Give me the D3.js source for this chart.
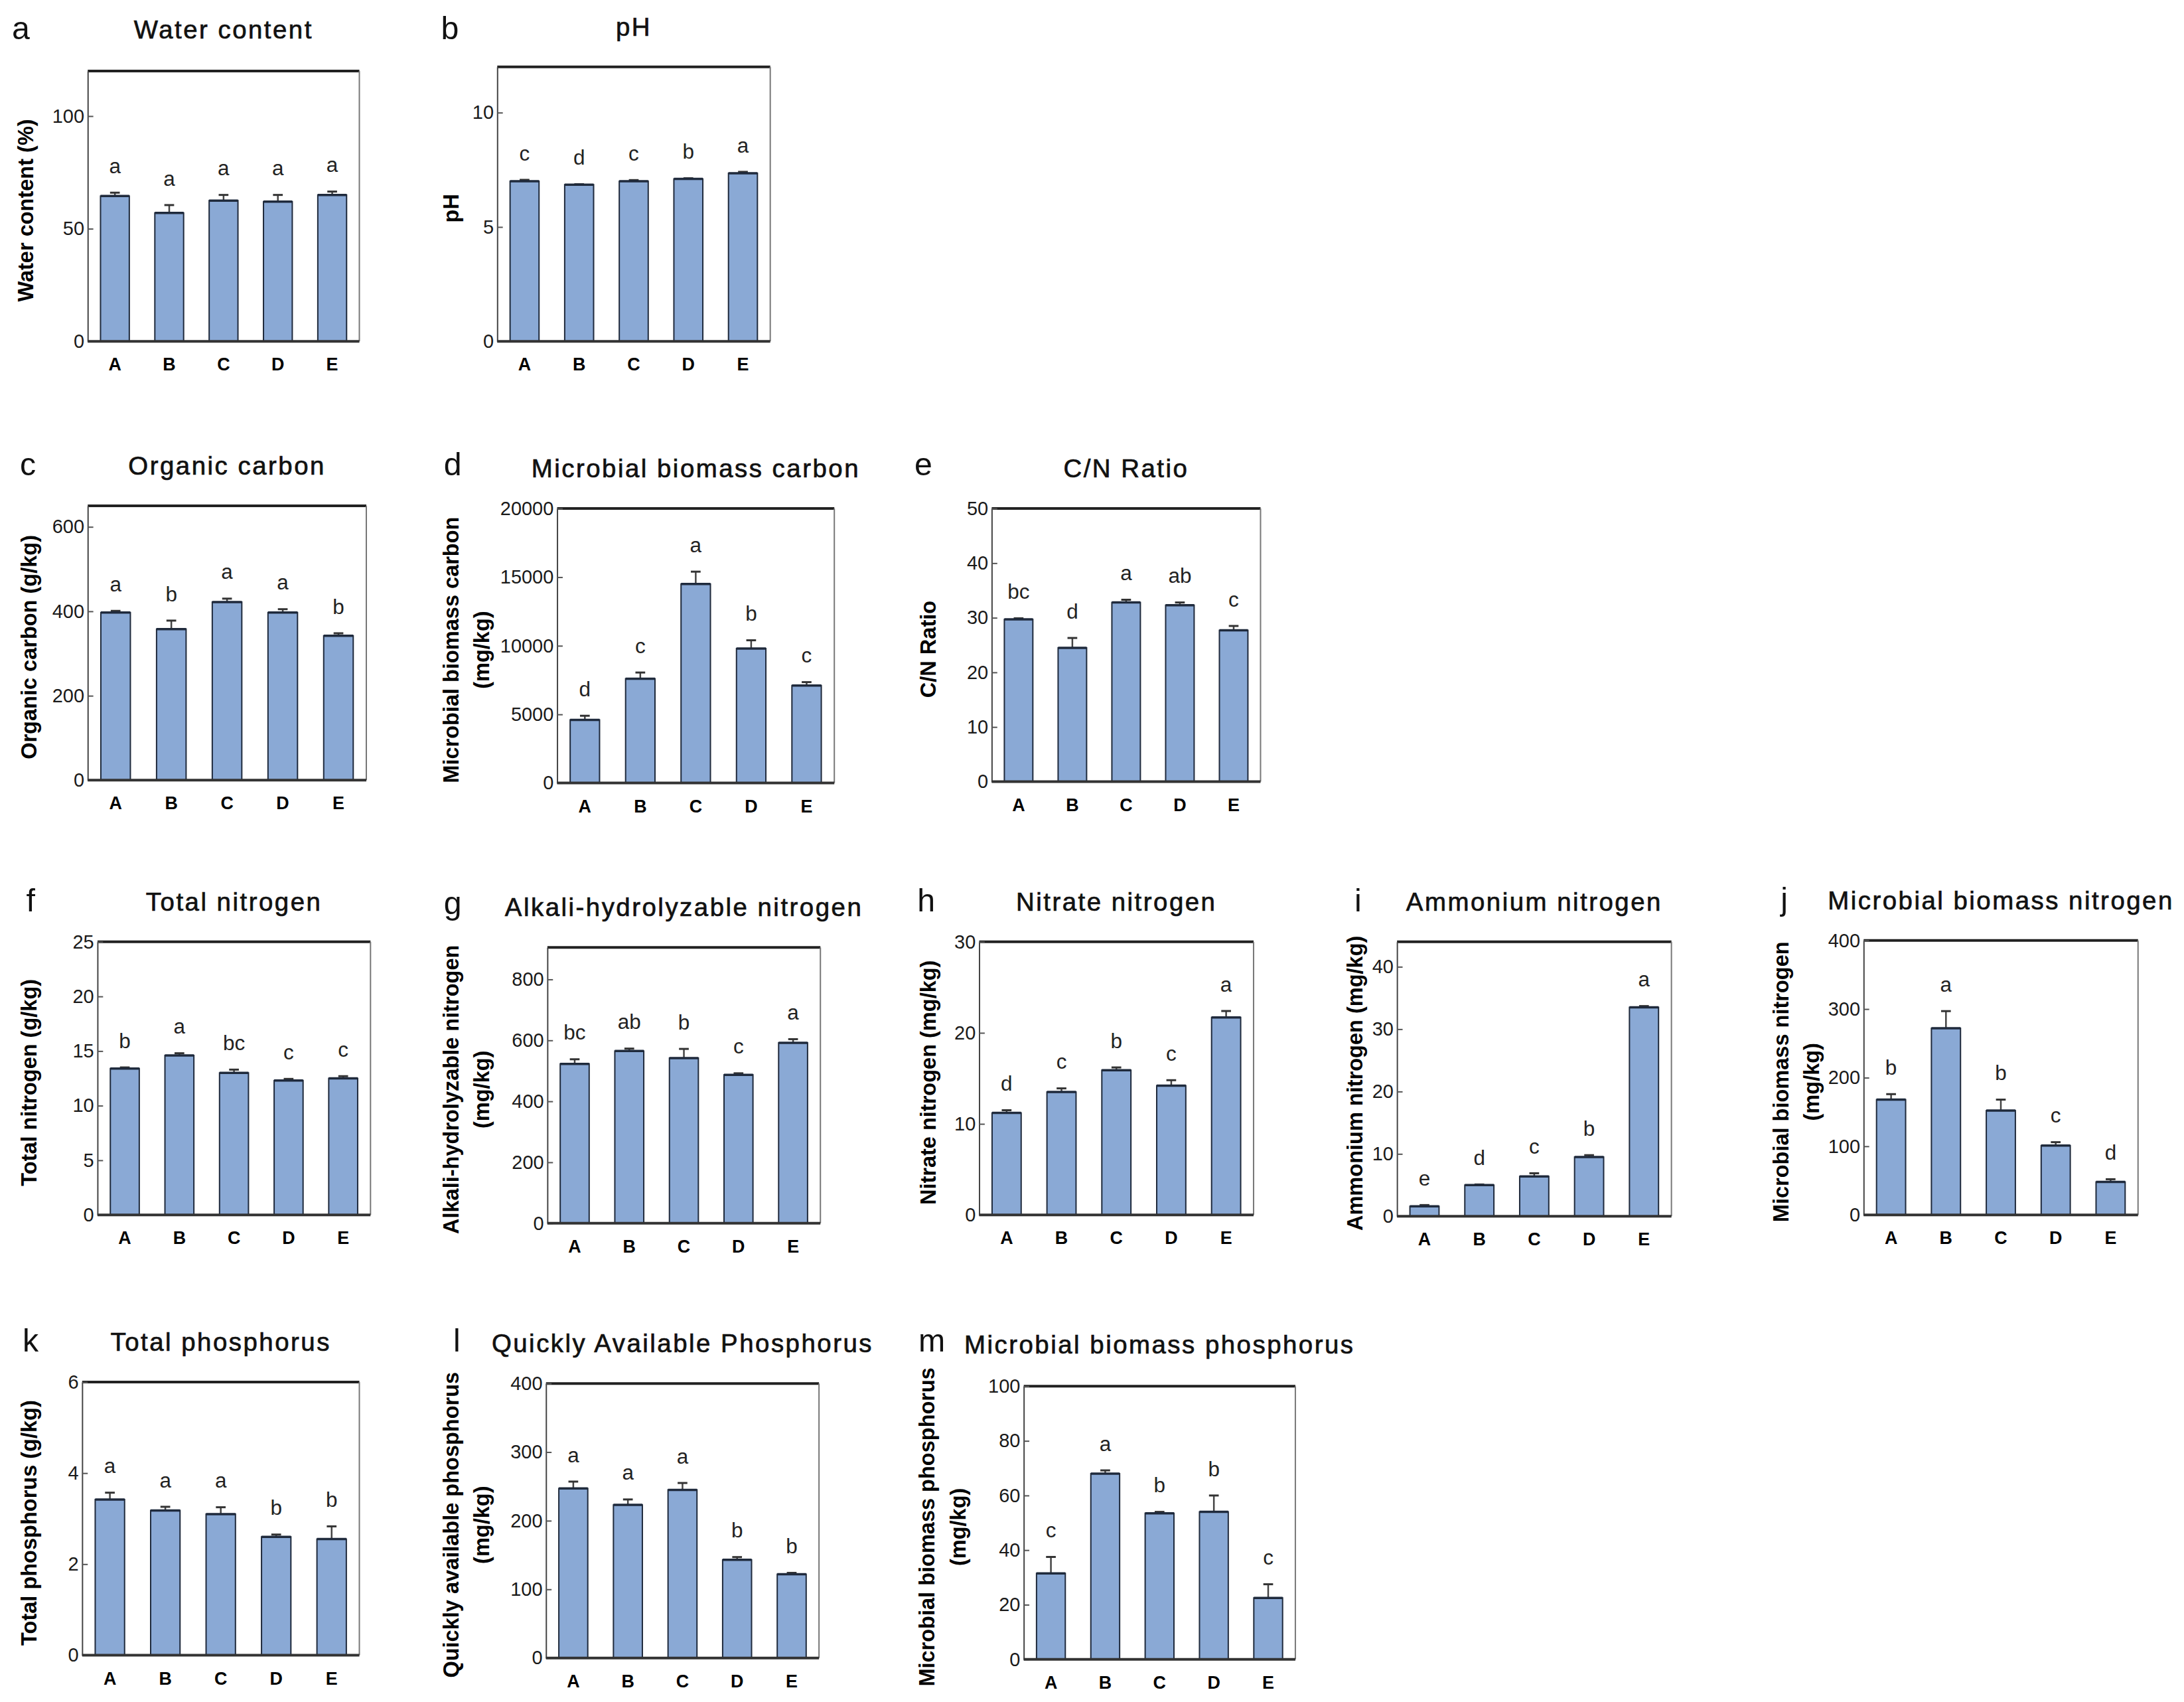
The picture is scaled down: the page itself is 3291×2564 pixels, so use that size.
<!DOCTYPE html>
<html>
<head>
<meta charset="utf-8">
<script src="https://cdn.jsdelivr.net/npm/d3@7"></script>
<style>
body {margin:0; background:#fff;}
svg {display:block;}
text {font-family:"Liberation Sans", Arial, sans-serif;}
</style>
</head>
<body>
<svg id="fig" width="3291" height="2564"></svg>
<script>
// soil property bar panels

var categories = ["A", "B", "C", "D", "E"];

var waterContent = [64.5, 57, 62.5, 62, 65];
var waterContentErr = [1.5, 3.5, 2.5, 3, 1.5];
var waterContentLetters = ["a", "a", "a", "a", "a"];

var ph = [7.0, 6.85, 7.0, 7.1, 7.35];
var phErr = [0.06, 0.02, 0.05, 0.03, 0.06];
var phLetters = ["c", "d", "c", "b", "a"];

var organicCarbon = [397, 358, 422, 397, 342];
var organicCarbonErr = [4, 20, 8, 8, 6];
var organicCarbonLetters = ["a", "b", "a", "a", "b"];

var mbCarbon = [4600, 7600, 14500, 9800, 7100];
var mbCarbonErr = [300, 450, 900, 600, 250];
var mbCarbonLetters = ["d", "c", "a", "b", "c"];

var cnRatio = [29.7, 24.5, 32.8, 32.3, 27.7];
var cnRatioErr = [0.2, 1.8, 0.5, 0.5, 0.8];
var cnRatioLetters = ["bc", "d", "a", "ab", "c"];

var totalN = [13.4, 14.6, 13.0, 12.3, 12.5];
var totalNErr = [0.1, 0.2, 0.3, 0.15, 0.2];
var totalNLetters = ["b", "a", "bc", "c", "c"];

var alkaliN = [523, 565, 542, 487, 592];
var alkaliNErr = [15, 8, 30, 5, 12];
var alkaliNLetters = ["bc", "ab", "b", "c", "a"];

var nitrateN = [11.2, 13.5, 15.9, 14.2, 21.7];
var nitrateNErr = [0.3, 0.4, 0.3, 0.6, 0.7];
var nitrateNLetters = ["d", "c", "b", "c", "a"];

var ammoniumN = [1.6, 5.0, 6.4, 9.5, 33.5];
var ammoniumNErr = [0.2, 0.1, 0.5, 0.3, 0.2];
var ammoniumNLetters = ["e", "d", "c", "b", "a"];

var mbNitrogen = [168, 272, 152, 101, 48];
var mbNitrogenErr = [8, 25, 16, 5, 4];
var mbNitrogenLetters = ["b", "a", "b", "c", "d"];

var totalP = [3.42, 3.18, 3.1, 2.6, 2.55];
var totalPErr = [0.15, 0.08, 0.15, 0.05, 0.28];
var totalPLetters = ["a", "a", "a", "b", "b"];

var availP = [247, 223, 245, 143, 122];
var availPErr = [10, 8, 10, 4, 2];
var availPLetters = ["a", "a", "a", "b", "b"];

var mbPhosphorus = [31.5, 68, 53.5, 54, 22.5];
var mbPhosphorusErr = [6, 1.2, 0.5, 6, 5];
var mbPhosphorusLetters = ["c", "a", "b", "b", "c"];

// layout in units of the 1568px wide source, scaled by S
var S = 3291 / 1568;

var panels = [
	{tag:"a", title:"Water content", yLabel:["Water content (%)"], v:waterContent, e:waterContentErr, l:waterContentLetters, ymax:120, ticks:[0,50,100], box:[63,51,258,245], tag_xy:[15,20], title_y:20, lab_x:[18]},
	{tag:"b", title:"pH", yLabel:["pH"], v:ph, e:phErr, l:phLetters, ymax:12, ticks:[0,5,10], box:[357,48,553,245], tag_xy:[323,20], title_y:18, lab_x:[323]},
	{tag:"c", title:"Organic carbon", yLabel:["Organic carbon (g/kg)"], v:organicCarbon, e:organicCarbonErr, l:organicCarbonLetters, ymax:650, ticks:[0,200,400,600], box:[63,363,263,560], tag_xy:[20,333], title_y:333, lab_x:[20]},
	{tag:"d", title:"Microbial biomass carbon", yLabel:["Microbial biomass carbon", "(mg/kg)"], v:mbCarbon, e:mbCarbonErr, l:mbCarbonLetters, ymax:20000, ticks:[0,5000,10000,15000,20000], box:[400,365,599,562], tag_xy:[325,333], title_y:335, lab_x:[323,345]},
	{tag:"e", title:"C/N Ratio", yLabel:["C/N Ratio"], v:cnRatio, e:cnRatioErr, l:cnRatioLetters, ymax:50, ticks:[0,10,20,30,40,50], box:[712,365,905,561], tag_xy:[663,333], title_y:335, lab_x:[666]},
	{tag:"f", title:"Total nitrogen", yLabel:["Total nitrogen (g/kg)"], v:totalN, e:totalNErr, l:totalNLetters, ymax:25, ticks:[0,5,10,15,20,25], box:[70,676,266,872], tag_xy:[22,646], title_y:646, lab_x:[20]},
	{tag:"g", title:"Alkali-hydrolyzable nitrogen", yLabel:["Alkali-hydrolyzable nitrogen", "(mg/kg)"], v:alkaliN, e:alkaliNErr, l:alkaliNLetters, ymax:905, ticks:[0,200,400,600,800], box:[393,680,589,878], tag_xy:[325,648], title_y:650, lab_x:[323,345]},
	{tag:"h", title:"Nitrate nitrogen", yLabel:["Nitrate nitrogen (mg/kg)"], v:nitrateN, e:nitrateNErr, l:nitrateNLetters, ymax:30, ticks:[0,10,20,30], box:[703,676,900,872], tag_xy:[665,646], title_y:646, lab_x:[666]},
	{tag:"i", title:"Ammonium nitrogen", yLabel:["Ammonium nitrogen (mg/kg)"], v:ammoniumN, e:ammoniumNErr, l:ammoniumNLetters, ymax:44, ticks:[0,10,20,30,40], box:[1003,676,1200,873], tag_xy:[975,646], title_y:646, lab_x:[972]},
	{tag:"j", title:"Microbial biomass nitrogen", yLabel:["Microbial biomass nitrogen", "(mg/kg)"], v:mbNitrogen, e:mbNitrogenErr, l:mbNitrogenLetters, ymax:400, ticks:[0,100,200,300,400], box:[1338,675,1535,872], tag_xy:[1281,645], title_y:645, lab_x:[1278,1300]},
	{tag:"k", title:"Total phosphorus", yLabel:["Total phosphorus (g/kg)"], v:totalP, e:totalPErr, l:totalPLetters, ymax:6, ticks:[0,2,4,6], box:[59,992,258,1188], tag_xy:[22,962], title_y:962, lab_x:[20]},
	{tag:"l", title:"Quickly Available Phosphorus", yLabel:["Quickly available phosphorus", "(mg/kg)"], v:availP, e:availPErr, l:availPLetters, ymax:400, ticks:[0,100,200,300,400], box:[392,993,588,1190], tag_xy:[328,962], title_y:963, lab_x:[323,345]},
	{tag:"m", title:"Microbial biomass phosphorus", yLabel:["Microbial biomass phosphorus", "(mg/kg)"], v:mbPhosphorus, e:mbPhosphorusErr, l:mbPhosphorusLetters, ymax:100, ticks:[0,20,40,60,80,100], box:[735,995,930,1191], tag_xy:[669,962], title_y:964, lab_x:[665,687]}
];

var svg = d3.select("#fig");
svg.append("rect").attr("width", 3291).attr("height", 2564).attr("fill", "#fff");

panels.forEach(function (p) {
	var L = p.box[0] * S, T = p.box[1] * S, R = p.box[2] * S, B = p.box[3] * S;
	var g = svg.append("g").attr("class", "panel");

	var x = d3.scaleBand().domain(categories).range([L, R]).paddingInner(0.47).paddingOuter(0.235);
	var y = d3.scaleLinear().domain([0, p.ymax]).range([B, T]);

	var rows = categories.map(function (c, i) {
		return {cat: c, v: p.v[i], e: p.e[i], l: p.l[i]};
	});

	// frame: heavy top, thin right
	g.append("line").attr("x1", L).attr("x2", R).attr("y1", T).attr("y2", T)
		.attr("stroke", "#222").attr("stroke-width", 4);
	g.append("line").attr("x1", R).attr("x2", R).attr("y1", T).attr("y2", B)
		.attr("stroke", "#777").attr("stroke-width", 2);

	// y axis, ticks pointing inward
	var ax = g.append("g").attr("transform", "translate(" + L + ",0)")
		.call(d3.axisLeft(y).tickValues(p.ticks).tickFormat(d3.format("d"))
			.tickSize(-4 * S).tickSizeOuter(0).tickPadding(2.5 * S));
	ax.select(".domain").attr("stroke", "#444").attr("stroke-width", 2);
	ax.selectAll(".tick line").attr("stroke", "#555").attr("stroke-width", 2);
	ax.selectAll(".tick text").attr("font-size", 13.8 * S).attr("fill", "#1a1a1a")
		.style("font-family", "'Liberation Sans', Arial, sans-serif");

	// bars
	g.selectAll("rect.bar").data(rows).enter().append("rect").attr("class", "bar")
		.attr("x", function (d) { return x(d.cat); })
		.attr("y", function (d) { return y(d.v); })
		.attr("width", x.bandwidth())
		.attr("height", function (d) { return B - y(d.v); })
		.attr("fill", "#8aa9d5").attr("stroke", "#1f2a3c").attr("stroke-width", 2);

	// error bars (upper only)
	var eb = g.selectAll("g.err").data(rows).enter().append("g").attr("class", "err");
	eb.append("line")
		.attr("x1", function (d) { return x(d.cat) + x.bandwidth() / 2; })
		.attr("x2", function (d) { return x(d.cat) + x.bandwidth() / 2; })
		.attr("y1", function (d) { return y(d.v); })
		.attr("y2", function (d) { return y(d.v + d.e); })
		.attr("stroke", "#444").attr("stroke-width", 2.5);
	eb.append("line")
		.attr("x1", function (d) { return x(d.cat) + x.bandwidth() / 2 - 3.5 * S; })
		.attr("x2", function (d) { return x(d.cat) + x.bandwidth() / 2 + 3.5 * S; })
		.attr("y1", function (d) { return y(d.v + d.e); })
		.attr("y2", function (d) { return y(d.v + d.e); })
		.attr("stroke", "#333").attr("stroke-width", 3);
	// dark cap line on each bar top
	g.selectAll("line.top").data(rows).enter().append("line").attr("class", "top")
		.attr("x1", function (d) { return x(d.cat); })
		.attr("x2", function (d) { return x(d.cat) + x.bandwidth(); })
		.attr("y1", function (d) { return y(d.v); })
		.attr("y2", function (d) { return y(d.v); })
		.attr("stroke", "#1f2a3c").attr("stroke-width", 3.5);

	// significance letters
	g.selectAll("text.sig").data(rows).enter().append("text").attr("class", "sig")
		.attr("x", function (d) { return x(d.cat) + x.bandwidth() / 2; })
		.attr("y", function (d) { return y(d.v + d.e) - 14 * S; })
		.attr("text-anchor", "middle").attr("font-size", 15 * S).attr("fill", "#222")
		.text(function (d) { return d.l; });

	// baseline
	g.append("line").attr("x1", L).attr("x2", R).attr("y1", B).attr("y2", B)
		.attr("stroke", "#333").attr("stroke-width", 4);

	// category labels
	g.selectAll("text.cat").data(categories).enter().append("text").attr("class", "cat")
		.attr("x", function (d) { return x(d) + x.bandwidth() / 2; })
		.attr("y", B + 21 * S)
		.attr("text-anchor", "middle").attr("font-size", 12.8 * S).attr("font-weight", "bold")
		.text(function (d) { return d; });

	// y label(s)
	p.yLabel.forEach(function (t, i) {
		g.append("text")
			.attr("transform", "translate(" + (p.lab_x[i] * S + 6 * S) + "," + ((T + B) / 2 + 3 * S) + ") rotate(-90)")
			.attr("text-anchor", "middle").attr("font-size", 15.5 * S).attr("font-weight", "bold")
			.text(t);
	});

	// title and panel tag
	g.append("text").attr("x", (L + R) / 2).attr("y", p.title_y * S + 7.5 * S)
		.attr("text-anchor", "middle").attr("font-size", 18.3 * S).attr("fill", "#111")
		.attr("stroke", "#111").attr("stroke-width", 0.7).attr("letter-spacing", 2.5)
		.text(p.title);
	g.append("text").attr("x", p.tag_xy[0] * S).attr("y", p.tag_xy[1] * S + 8 * S)
		.attr("text-anchor", "middle").attr("font-size", 23 * S).attr("fill", "#111")
		.text(p.tag);
});
</script>
</body>
</html>
